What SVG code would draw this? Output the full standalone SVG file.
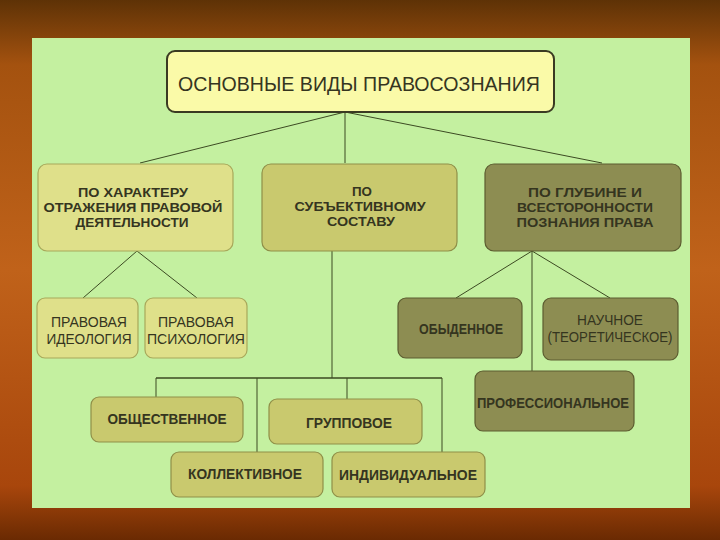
<svg xmlns="http://www.w3.org/2000/svg" width="720" height="540" viewBox="0 0 720 540">
<defs>
<linearGradient id="bg" x1="0" y1="0" x2="0" y2="1">
<stop offset="0" stop-color="#5e3206"/>
<stop offset="0.12" stop-color="#a4520f"/>
<stop offset="0.5" stop-color="#c0621a"/>
<stop offset="0.9" stop-color="#a8460c"/>
<stop offset="1" stop-color="#6a2a02"/>
</linearGradient>
<style>
.t{font-family:"Liberation Sans",Arial,sans-serif;fill:#35351f;text-anchor:middle;dominant-baseline:central}
.cat{font-size:13.5px;font-weight:bold}
.leaf{font-size:15px}
.bd{font-weight:bold}
.a{fill:#dfe08a;stroke:#a8a85a;stroke-width:1.2}
.b{fill:#c9c96e;stroke:#8f8f48;stroke-width:1.2}
.c{fill:#8d8d52;stroke:#5c5c30;stroke-width:1.2}
.ln{stroke:#3c4a22;stroke-width:1;fill:none}
</style>
</defs>
<rect width="720" height="540" fill="url(#bg)"/>
<rect x="32" y="38" width="658" height="470" fill="#c4f0a0"/>
<g id="connectors">
<path class="ln" d="M345,112 L140,163 M345,112 L345,163 M345,112 L602,163"/>
<path class="ln" d="M137,251 L83,298 M137,251 L197,298"/>
<path class="ln" d="M532,251 L456,298 M532,251 L610,298 M532,251 L532,371"/>
<path class="ln" d="M332,251 L332,378"/>
<path class="ln" style="stroke-width:1.6" d="M156,378 L442,378"/>
<path class="ln" d="M156,378 L156,397 M257,378 L257,452 M347,378 L347,399 M442,378 L442,452"/>
</g>
<g id="root">
<rect x="167" y="51" width="387" height="61" rx="8" fill="#fafaa8" stroke="#3a3a22" stroke-width="2"/>
<text class="t" x="359" y="83" font-size="21" textLength="362" lengthAdjust="spacingAndGlyphs">ОСНОВНЫЕ ВИДЫ ПРАВОСОЗНАНИЯ</text>
</g>
<g id="cat-a">
<rect class="a" x="38" y="164" width="195" height="87" rx="9"/>
<text class="t cat" x="133" y="192" textLength="110" lengthAdjust="spacingAndGlyphs">ПО ХАРАКТЕРУ</text>
<text class="t cat" x="133" y="207" textLength="179" lengthAdjust="spacingAndGlyphs">ОТРАЖЕНИЯ ПРАВОВОЙ</text>
<text class="t cat" x="132" y="222" textLength="113" lengthAdjust="spacingAndGlyphs">ДЕЯТЕЛЬНОСТИ</text>
</g>
<g id="cat-b">
<rect class="b" x="262" y="164" width="195" height="87" rx="9"/>
<text class="t cat" x="362" y="191" textLength="20" lengthAdjust="spacingAndGlyphs">ПО</text>
<text class="t cat" x="360" y="206" textLength="131" lengthAdjust="spacingAndGlyphs">СУБЪЕКТИВНОМУ</text>
<text class="t cat" x="361" y="221" textLength="68" lengthAdjust="spacingAndGlyphs">СОСТАВУ</text>
</g>
<g id="cat-c">
<rect class="c" x="485" y="164" width="196" height="87" rx="9"/>
<text class="t cat" x="585" y="192" textLength="114" lengthAdjust="spacingAndGlyphs">ПО ГЛУБИНЕ И</text>
<text class="t cat" x="585" y="207" textLength="136" lengthAdjust="spacingAndGlyphs">ВСЕСТОРОННОСТИ</text>
<text class="t cat" x="585" y="222" textLength="137" lengthAdjust="spacingAndGlyphs">ПОЗНАНИЯ ПРАВА</text>
</g>
<g id="ideology">
<rect class="a" x="37" y="298" width="101" height="60" rx="8"/>
<text class="t leaf" x="89" y="321" textLength="76" lengthAdjust="spacingAndGlyphs">ПРАВОВАЯ</text>
<text class="t leaf" x="89" y="338" textLength="85" lengthAdjust="spacingAndGlyphs">ИДЕОЛОГИЯ</text>
</g>
<g id="psychology">
<rect class="a" x="145" y="298" width="102" height="60" rx="8"/>
<text class="t leaf" x="196" y="321" textLength="76" lengthAdjust="spacingAndGlyphs">ПРАВОВАЯ</text>
<text class="t leaf" x="196" y="338" textLength="98" lengthAdjust="spacingAndGlyphs">ПСИХОЛОГИЯ</text>
</g>
<g id="ordinary">
<rect class="c" x="398" y="298" width="124" height="60" rx="8"/>
<text class="t leaf bd" x="461" y="328" textLength="84" lengthAdjust="spacingAndGlyphs">ОБЫДЕННОЕ</text>
</g>
<g id="scientific">
<rect class="c" x="543" y="298" width="135" height="62" rx="8"/>
<text class="t leaf" x="610" y="319" textLength="66" lengthAdjust="spacingAndGlyphs">НАУЧНОЕ</text>
<text class="t leaf" x="610" y="336" textLength="125" lengthAdjust="spacingAndGlyphs">(ТЕОРЕТИЧЕСКОЕ)</text>
</g>
<g id="professional">
<rect class="c" x="475" y="371" width="159" height="60" rx="8"/>
<text class="t leaf bd" x="553" y="402" textLength="152" lengthAdjust="spacingAndGlyphs">ПРОФЕССИОНАЛЬНОЕ</text>
</g>
<g id="social">
<rect class="b" x="91" y="397" width="152" height="45" rx="8"/>
<text class="t leaf bd" x="167" y="418" textLength="119" lengthAdjust="spacingAndGlyphs">ОБЩЕСТВЕННОЕ</text>
</g>
<g id="group">
<rect class="b" x="269" y="399" width="153" height="45" rx="8"/>
<text class="t leaf bd" x="349" y="422" textLength="86" lengthAdjust="spacingAndGlyphs">ГРУППОВОЕ</text>
</g>
<g id="collective">
<rect class="b" x="171" y="452" width="152" height="45" rx="8"/>
<text class="t leaf bd" x="245" y="473" textLength="114" lengthAdjust="spacingAndGlyphs">КОЛЛЕКТИВНОЕ</text>
</g>
<g id="individual">
<rect class="b" x="332" y="452" width="153" height="45" rx="8"/>
<text class="t leaf bd" x="408" y="474" textLength="138" lengthAdjust="spacingAndGlyphs">ИНДИВИДУАЛЬНОЕ</text>
</g>
</svg>
